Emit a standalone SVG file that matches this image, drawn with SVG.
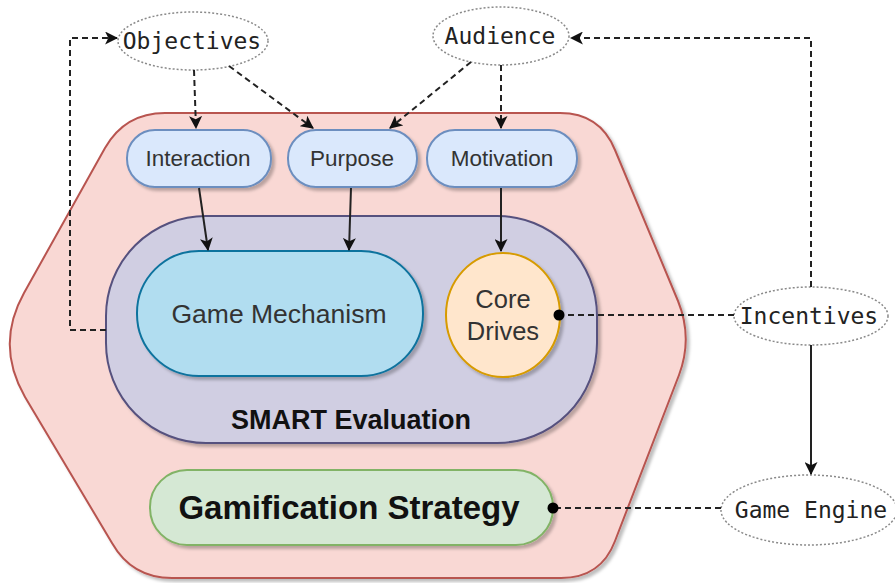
<svg xmlns="http://www.w3.org/2000/svg" width="895" height="583" viewBox="0 0 895 583">
<defs>
<style>
.lbl{font-family:"Liberation Sans",Arial,sans-serif;fill:#333;text-anchor:middle;dominant-baseline:central}
.mono{font-family:"DejaVu Sans Mono","Liberation Mono",monospace;font-size:23px;fill:#222;text-anchor:middle;dominant-baseline:central}
.ell{fill:#fff;stroke:#8a8a8a;stroke-width:1.5;stroke-dasharray:2 2}
.dash{fill:none;stroke:#222;stroke-width:2;stroke-dasharray:6 4}
.solid{fill:none;stroke:#222;stroke-width:2}
.blue{fill:#dae8fc;stroke:#6c8ebf;stroke-width:2}
</style>
<filter id="sh" x="-10%" y="-10%" width="130%" height="130%">
<feDropShadow dx="3" dy="3" stdDeviation="1.5" flood-color="#000" flood-opacity="0.25"/>
</filter>
<marker id="arr" viewBox="0 0 12 12" refX="11" refY="6" markerWidth="13" markerHeight="13" markerUnits="userSpaceOnUse" orient="auto">
<path d="M0,0 L12,6 L0,12 L3,6 Z" fill="#111"/>
</marker>
<marker id="dot" viewBox="0 0 12 12" refX="6" refY="6" markerWidth="12" markerHeight="12" markerUnits="userSpaceOnUse" orient="auto">
<circle cx="6" cy="6" r="5.5" fill="#000"/>
</marker>
</defs>

<g id="hexagon" filter="url(#sh)">
<path d="M165,113 L560,113 Q600,113 615,150 L678,301 Q693,338 679,375 L615,541 Q601,578 561,578 L172,578 Q132,578 112,543 L25,397 Q-5,345 24,293 L105,148 Q125,113 165,113 Z" fill="#f9d8d4" stroke="#b85450" stroke-width="2"/>
</g>

<g id="smart-evaluation">
<rect x="106" y="216" width="491" height="227" rx="100" ry="100" fill="#d0cee2" stroke="#56517e" stroke-width="2" filter="url(#sh)"/>
<text class="lbl" x="351" y="420" font-size="27" font-weight="bold" style="fill:#111">SMART Evaluation</text>
</g>

<g id="game-mechanism">
<rect x="137" y="251" width="286" height="125" rx="62" ry="62" fill="#b1ddf0" stroke="#10739e" stroke-width="2" filter="url(#sh)"/>
<text class="lbl" x="279" y="314" font-size="26.5">Game Mechanism</text>
</g>

<g id="core-drives">
<ellipse cx="503" cy="315" rx="57" ry="62" fill="#ffe6cc" stroke="#d79b00" stroke-width="2" filter="url(#sh)"/>
<text class="lbl" x="503" y="299" font-size="25.5">Core</text>
<text class="lbl" x="503" y="331" font-size="25.5">Drives</text>
</g>

<g id="interaction">
<rect class="blue" x="127" y="130" width="144" height="57" rx="28" ry="28" filter="url(#sh)"/>
<text class="lbl" x="198" y="158" font-size="22.5">Interaction</text>
</g>

<g id="purpose">
<rect class="blue" x="288" y="130" width="129" height="57" rx="28" ry="28" filter="url(#sh)"/>
<text class="lbl" x="352" y="158" font-size="22.5">Purpose</text>
</g>

<g id="motivation">
<rect class="blue" x="427" y="130" width="150" height="57" rx="28" ry="28" filter="url(#sh)"/>
<text class="lbl" x="502" y="158" font-size="22.5">Motivation</text>
</g>

<g id="gamification-strategy">
<rect x="150" y="470" width="403" height="75" rx="37" ry="37" fill="#d5e8d4" stroke="#82b366" stroke-width="2" filter="url(#sh)"/>
<text class="lbl" x="349" y="507" font-size="33" font-weight="bold" style="fill:#111">Gamification Strategy</text>
</g>

<g id="objectives">
<ellipse class="ell" cx="193" cy="41" rx="75" ry="29"/>
<text class="mono" x="192" y="41">Objectives</text>
</g>

<g id="audience">
<ellipse class="ell" cx="501" cy="36" rx="68" ry="29"/>
<text class="mono" x="500" y="36">Audience</text>
</g>

<g id="incentives">
<ellipse class="ell" cx="811" cy="316" rx="77" ry="29"/>
<text class="mono" x="809" y="316">Incentives</text>
</g>

<g id="game-engine">
<ellipse class="ell" cx="809" cy="510" rx="88" ry="35"/>
<text class="mono" x="811" y="510">Game Engine</text>
</g>

<g id="connectors">
<path class="dash" d="M194,70 L196,128" marker-end="url(#arr)"/>
<path class="dash" d="M229,66 L313,128" marker-end="url(#arr)"/>
<path class="dash" d="M471,62 L390,128" marker-end="url(#arr)"/>
<path class="dash" d="M501,65 L501,128" marker-end="url(#arr)"/>
<path class="dash" d="M811,287 L811,38 L571,38" marker-end="url(#arr)"/>
<path class="dash" d="M106,330 L70,330 L70,38 L117,38" marker-end="url(#arr)"/>
<path class="solid" d="M199,188 L208,250" marker-end="url(#arr)"/>
<path class="solid" d="M351,188 L349,250" marker-end="url(#arr)"/>
<path class="solid" d="M501,188 L501,251" marker-end="url(#arr)"/>
<path class="dash" d="M734,315 L559,315" marker-end="url(#dot)" stroke="#333"/>
<path class="solid" d="M811,345 L811,474" marker-end="url(#arr)" stroke="#444"/>
<path class="dash" d="M721,508 L553,508" marker-end="url(#dot)" stroke="#333"/>
</g>
</svg>
